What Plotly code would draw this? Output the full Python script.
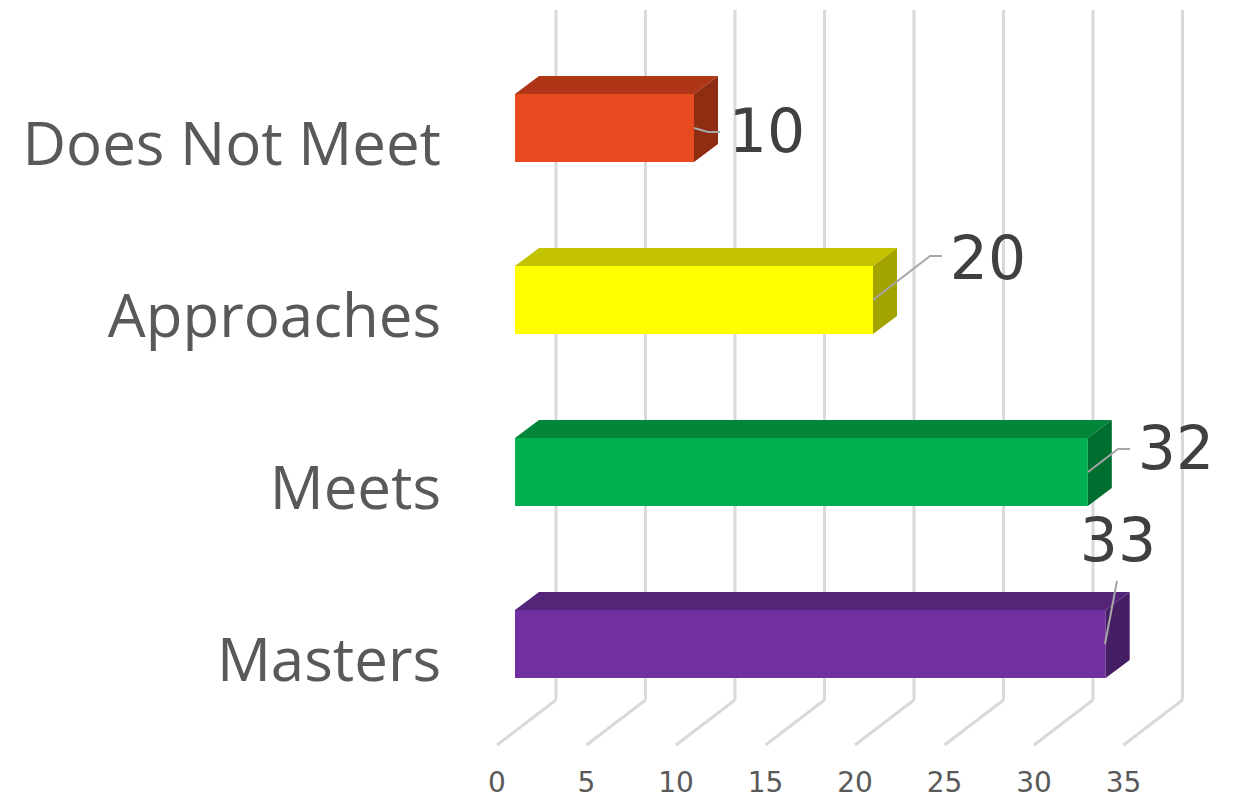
import plotly.graph_objects as go

categories = ["Masters", "Meets", "Approaches", "Does Not Meet"]
values = [33, 32, 20, 10]
x_ticks = [0, 5, 10, 15, 20, 25, 30, 35]

front_colors = ["#7030A0", "#00B050", "#FFFF00", "#E84A20"]
top_colors = ["#542478", "#008539", "#C2C200", "#AE3617"]
side_colors = ["#461E64", "#006E2F", "#A3A300", "#8F2D13"]

# Pixel geometry of the oblique projection (page pixels; page body margin is 8)
PAGE = 8
W, H = 1226, 788
L, B = 442 - PAGE, 43
PX_X, PX_Y = 17.9, 172.0
X0_PX, Y0_PX = 497.0 - PAGE, 660.0 - PAGE
CAT_FONT = "Open Sans"
NUM_FONT = "DejaVu Sans"


def ux(px):
    return (px - PAGE - X0_PX) / PX_X


def uy(py):
    return (Y0_PX - (py - PAGE)) / PX_Y


DX, DY = 24 / PX_X, 18 / PX_Y          # box depth
BASE = 18 / PX_X                       # bar start offset
BAR_SHIFT = 16 / PX_Y                  # bars sit above labels
BAR_H = 68 / PX_Y
WALL_DX, FLOOR_FRONT, FLOOR_BACK, WALL_TOP = 59 / PX_X, uy(745), uy(700), uy(10)

# Label centre and leader-line positions in page pixels
label_px = [(1118, 546), (1176, 454), (988, 264), (767, 137)]
leader_px = [
    [(1105, 644), (1117, 581)],
    [(1088, 472), (1118, 449), (1130, 449)],
    [(873, 300), (930, 256), (942, 256)],
    [(694, 128), (708, 132), (720, 132)],
]

fig = go.Figure()

ys = [i + BAR_SHIFT for i in range(len(values))]

fig.add_trace(go.Bar(
    x=values, y=ys, base=BASE, orientation="h", width=BAR_H,
    marker=dict(color=front_colors, line=dict(width=0)),
    showlegend=False, hoverinfo="skip",
))

for v, yc, ct, cs in zip(values, ys, top_colors, side_colors):
    x1 = BASE + v
    yt, yb = yc + BAR_H / 2, yc - BAR_H / 2
    fig.add_trace(go.Scatter(
        x=[BASE, x1, x1 + DX, BASE + DX, BASE], y=[yt, yt, yt + DY, yt + DY, yt],
        mode="lines", fill="toself", fillcolor=ct, line=dict(width=0),
        showlegend=False, hoverinfo="skip"))
    fig.add_trace(go.Scatter(
        x=[x1, x1 + DX, x1 + DX, x1, x1], y=[yt, yt + DY, yb + DY, yb, yt],
        mode="lines", fill="toself", fillcolor=cs, line=dict(width=0),
        showlegend=False, hoverinfo="skip"))

for pts in leader_px:
    fig.add_trace(go.Scatter(
        x=[ux(p[0]) for p in pts], y=[uy(p[1]) for p in pts], mode="lines",
        line=dict(color="#A6A6A6", width=2), showlegend=False, hoverinfo="skip"))

fig.add_trace(go.Scatter(
    x=[ux(p[0]) for p in label_px], y=[uy(p[1]) for p in label_px],
    mode="text", text=[str(v) for v in values], textposition="middle center",
    textfont=dict(family=NUM_FONT, size=60, color="#404040"),
    showlegend=False, hoverinfo="skip"))

shapes = []
for t in x_ticks:
    xb = t + WALL_DX
    line = dict(color="#D9D9D9", width=3)
    shapes.append(dict(type="line", xref="x", yref="y", layer="below",
                       x0=xb, x1=xb, y0=FLOOR_BACK, y1=WALL_TOP, line=line))
    shapes.append(dict(type="line", xref="x", yref="y", layer="below",
                       x0=t, x1=xb, y0=FLOOR_FRONT, y1=FLOOR_BACK, line=line))

plot_bottom = H - B
fig.update_layout(
    width=W, height=H, autosize=False,
    template="none",
    margin=dict(l=L, r=0, t=0, b=B, pad=0),
    paper_bgcolor="white", plot_bgcolor="white",
    shapes=shapes, showlegend=False,
    xaxis=dict(automargin=False, range=[ux(L + PAGE), ux(W + PAGE)], tickvals=x_ticks,
               showgrid=False, zeroline=False,
               showline=False, ticks="outside", ticklen=4, tickcolor="rgba(0,0,0,0)",
               tickfont=dict(family=NUM_FONT, size=28, color="#595959")),
    yaxis=dict(automargin=False, range=[uy(plot_bottom + PAGE), uy(PAGE)],
               tickvals=list(range(len(categories))),
               ticktext=categories, showgrid=False, zeroline=False, showline=False,
               ticks="", tickfont=dict(family=CAT_FONT, size=60, color="#595959")),
)

fig.write_html("out.html")
